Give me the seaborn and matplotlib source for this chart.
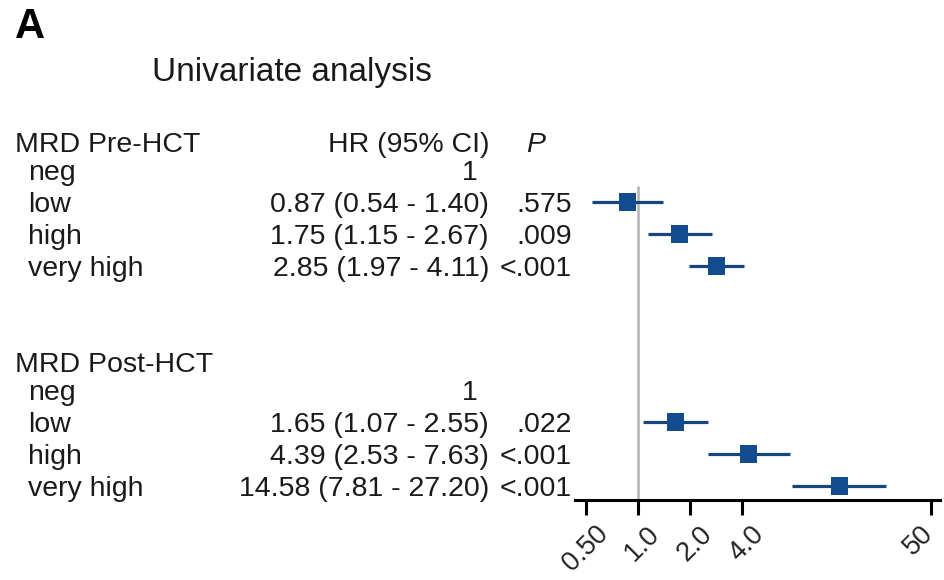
import numpy as np
import pandas as pd
import matplotlib
matplotlib.use("Agg")
import matplotlib.pyplot as plt
import matplotlib.transforms as mtransforms
import seaborn as sns

sns.set_theme(style="white")
plt.rcParams["font.family"] = ["Liberation Sans", "DejaVu Sans"]

# Hazard ratios with 95% confidence intervals (reference level = neg)
groups = ["MRD Pre-HCT", "MRD Post-HCT"]
levels = ["neg", "low", "high", "very high"]
hr_pre = [0.87, 1.75, 2.85]
lo_pre = [0.54, 1.15, 1.97]
hi_pre = [1.40, 2.67, 4.11]
p_pre = [".575", ".009", "<.001"]
hr_post = [1.65, 4.39, 14.58]
lo_post = [1.07, 2.53, 7.81]
hi_post = [2.55, 7.63, 27.20]
p_post = [".022", "<.001", "<.001"]
tick_values = [0.5, 1.0, 2.0, 4.0, 50]
tick_labels = ["0.50", "1.0", "2.0", "4.0", "50"]

W, H = 944, 580
fig = plt.figure(figsize=(W / 100, H / 100), dpi=100)

# forest panel; vertical coordinates are in pixel rows from the top
ax_left, ax_right, ax_top, ax_bot = 575, 940, 130, 500
ax = fig.add_axes([ax_left / W, 1 - ax_bot / H, (ax_right - ax_left) / W, (ax_bot - ax_top) / H])

header_y = [142, 362]
row_y = [[170, 202, 234, 266], [391, 422, 454, 486]]

rows = []
for g, hrs, los, his, ys in [(groups[0], hr_pre, lo_pre, hi_pre, row_y[0]),
                              (groups[1], hr_post, lo_post, hi_post, row_y[1])]:
    for lvl, hr, lo, hi, y in zip(levels[1:], hrs, los, his, ys[1:]):
        rows.append(dict(group=g, level=lvl, hr=hr, lo=lo, hi=hi, y=y))
df = pd.DataFrame(rows)

ax.set_xscale("log")
ax.set_xlim(0.432, 56)
ax.set_ylim(ax_bot, ax_top)

# reference line at HR = 1
ax.vlines(1.0, 186, ax_bot, color="#b3b3b3", lw=1.8, zorder=1)

blue = "#17467f"
ax.hlines(df["y"], df["lo"], df["hi"], color=blue, lw=2.3, zorder=2)
sns.scatterplot(data=df, x="hr", y="y", marker="s", s=150, color="#134c8e",
                edgecolor="none", ax=ax, zorder=3, legend=False)

for side in ["top", "right", "left"]:
    ax.spines[side].set_visible(False)
ax.spines["bottom"].set_linewidth(2.2)
ax.spines["bottom"].set_color("black")
ax.set_xticks(tick_values)
ax.set_xticks([], minor=True)
ax.set_xticklabels(tick_labels, rotation=45, ha="right", va="top",
                   rotation_mode="anchor", fontsize=19.5, color="#222222")
ax.tick_params(axis="x", which="major", direction="out", length=11, width=2.2,
               color="black", pad=4, bottom=True)
# nudge the slanted labels so they sit just right of their ticks
shifts = [9, 9, 9, 9, -11]
for lab, dx in zip(ax.get_xticklabels(), shifts):
    lab.set_transform(lab.get_transform() +
                      mtransforms.ScaledTranslation(dx / 100, 0, fig.dpi_scale_trans))
ax.set_yticks([])
ax.set_xlabel("")
ax.set_ylabel("")

# text columns, positioned in figure pixels
def put(x, y, s, **kw):
    kw.setdefault("fontsize", 20.5)
    kw.setdefault("color", "#1a1a1a")
    fig.text(x / W, 1 - y / H, s, va="baseline", **kw)

base = 9.5
put(15, 27 + 11, "A", fontsize=30, fontweight="bold", color="black")
put(152, 70 + 11, "Univariate analysis", fontsize=24)

fmt = lambda hr, lo, hi: f"{hr:.2f} ({lo:.2f} - {hi:.2f})"
for gi, (g, hrs, los, his, ps) in enumerate([(groups[0], hr_pre, lo_pre, hi_pre, p_pre),
                                              (groups[1], hr_post, lo_post, hi_post, p_post)]):
    hy = header_y[gi]
    put(15, hy + base, g)
    if gi == 0:
        put(489, hy + base, "HR (95% CI)", ha="right")
        put(536, hy + base, "P", ha="center", style="italic")
    ys = row_y[gi]
    for lvl, y in zip(levels, ys):
        put(28, y + base, lvl)
    put(478, ys[0] + base, "1", ha="right")
    for hr, lo, hi, p, y in zip(hrs, los, his, ps, ys[1:]):
        put(489, y + base, fmt(hr, lo, hi), ha="right")
        put(572, y + base, p, ha="right")

fig.savefig("out.png", dpi=100, facecolor="white")
